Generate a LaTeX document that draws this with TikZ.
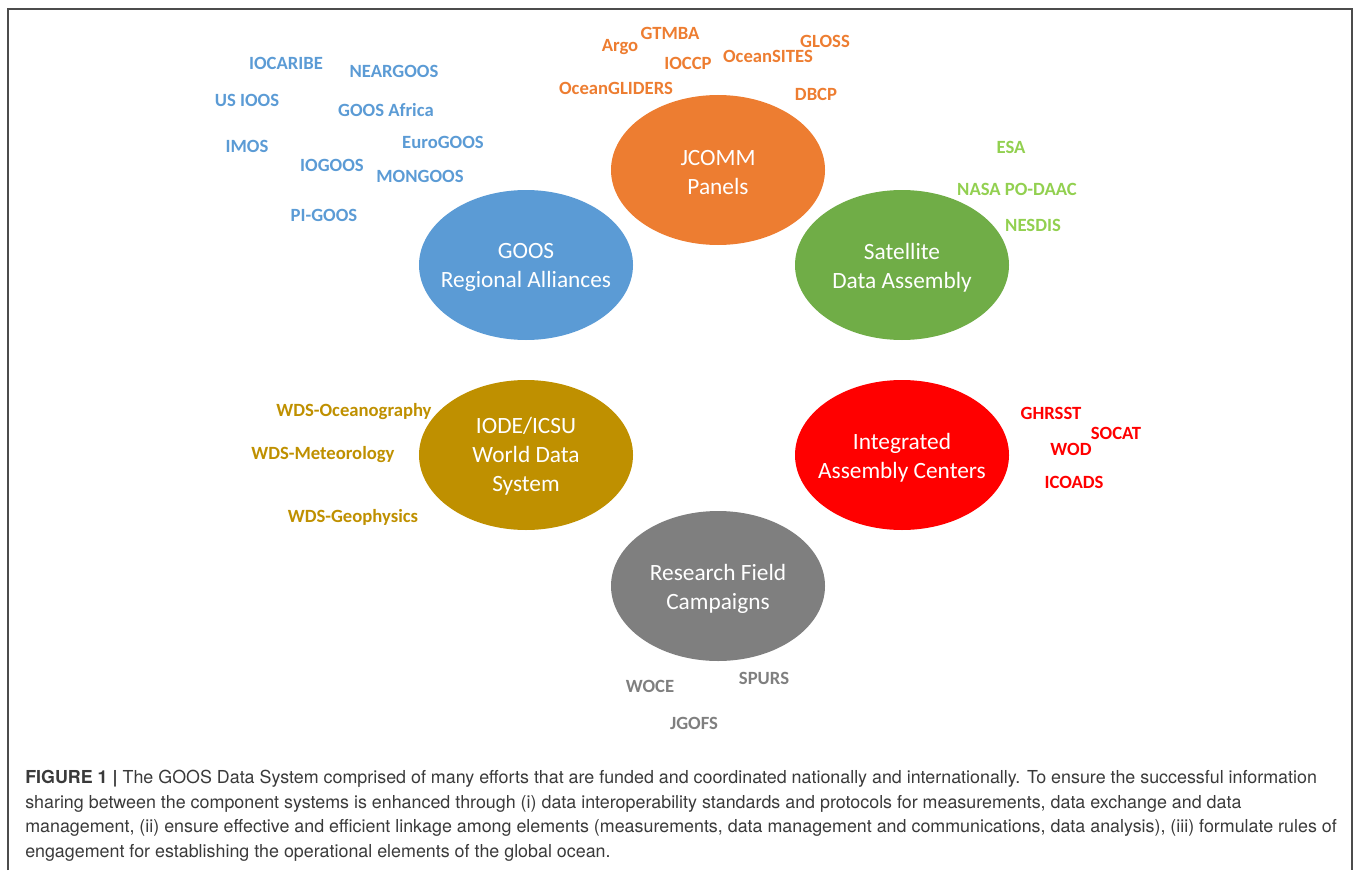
\documentclass[tikz,border=0pt]{standalone}
\usepackage{fontspec}
\setmainfont{Carlito}
\newfontfamily\capfont{TeX Gyre Heros}
\usetikzlibrary{shapes.geometric}

\definecolor{cBlue}{HTML}{5B9BD5}
\definecolor{cOrange}{HTML}{ED7D31}
\definecolor{cGreen}{HTML}{70AD47}
\definecolor{cLime}{HTML}{92D050}
\definecolor{cGold}{HTML}{BF9000}
\definecolor{cRed}{HTML}{FF0000}
\definecolor{cGrey}{HTML}{7F7F7F}
\definecolor{cCap}{HTML}{3A3A3A}

\begin{document}
\begin{tikzpicture}[x=0.75pt,y=-0.75pt,
    hub/.style={shape=ellipse,minimum width=160.5pt,minimum height=112.5pt,inner sep=0pt},
    hubtext/.style={text=white,align=center,inner sep=0pt,font=\fontsize{17.5}{21.75}\selectfont},
    tag/.style={font=\fontsize{14}{16}\selectfont\bfseries,inner sep=0pt}]
    \useasboundingbox (0,0) rectangle (1358,870);
    \draw[line width=1.1pt,color=black!70] (8,870) -- (8,9) -- (1352,9) -- (1352,870);

    %hubs
    \node[hub,fill=cOrange] (jcomm) at (718,170) {};
    \node[hub,fill=cBlue] (gra) at (526,265) {};
    \node[hub,fill=cGreen] (sat) at (902,265) {};
    \node[hub,fill=cGold] (wds) at (526,455) {};
    \node[hub,fill=cRed] (iac) at (902,455) {};
    \node[hub,fill=cGrey] (rfc) at (718,586) {};
    %hub texts
    \node[hubtext] (jcommtxt) at ([yshift=-2pt]jcomm) {JCOMM\\Panels};
    \node[hubtext] (gratxt) at ([yshift=-2pt]gra) {GOOS\\Regional Alliances};
    \node[hubtext] (sattxt) at ([yshift=-2pt]sat) {Satellite\\Data Assembly};
    \node[hubtext] (wdstxt) at ([yshift=-1pt]wds) {IODE/ICSU\\World Data\\System};
    \node[hubtext] (iactxt) at ([yshift=-2pt]iac) {Integrated\\Assembly Centers};
    \node[hubtext] (rfctxt) at ([yshift=-2pt]rfc) {Research Field\\Campaigns};

    %regional alliances
    \node[tag,text=cBlue] (iocaribe) at (286,63) {IOCARIBE};
    \node[tag,text=cBlue] (neargoos) at (394,71) {NEARGOOS};
    \node[tag,text=cBlue] (usioos) at (247,100) {US IOOS};
    \node[tag,text=cBlue] (goosafrica) at (386,110) {GOOS Africa};
    \node[tag,text=cBlue] (eurogoos) at (443,142) {EuroGOOS};
    \node[tag,text=cBlue] (imos) at (247,146) {IMOS};
    \node[tag,text=cBlue] (iogoos) at (332,165) {IOGOOS};
    \node[tag,text=cBlue] (mongoos) at (420,176) {MONGOOS};
    \node[tag,text=cBlue] (pigoos) at (324,215) {PI-GOOS};

    %jcomm panels
    \node[tag,text=cOrange] (gtmba) at (670,33) {GTMBA};
    \node[tag,text=cOrange,anchor=base] (argo) at (620,52) {Argo};
    \node[tag,text=cOrange] (ioccp) at (688,63) {IOCCP};
    \node[tag,text=cOrange] (oceansites) at (768,56) {OceanSITES};
    \node[tag,text=cOrange] (gloss) at (825,41) {GLOSS};
    \node[tag,text=cOrange] (gliders) at (616,88) {OceanGLIDERS};
    \node[tag,text=cOrange] (dbcp) at (816,94) {DBCP};

    %satellite
    \node[tag,text=cLime] (esa) at (1011,147) {ESA};
    \node[tag,text=cLime] (podaac) at (1017,189) {NASA PO-DAAC};
    \node[tag,text=cLime] (nesdis) at (1033,225) {NESDIS};

    %assembly centers
    \node[tag,text=cRed] (ghrsst) at (1051,413) {GHRSST};
    \node[tag,text=cRed] (socat) at (1116,433) {SOCAT};
    \node[tag,text=cRed] (wod) at (1071,449) {WOD};
    \node[tag,text=cRed] (icoads) at (1074,482) {ICOADS};

    %world data system
    \node[tag,text=cGold,anchor=base] (wdsocean) at (354,416) {WDS-Oceanography};
    \node[tag,text=cGold,anchor=base] (wdsmet) at (323,459) {WDS-Meteorology};
    \node[tag,text=cGold,anchor=base] (wdsgeo) at (353,522) {WDS-Geophysics};

    %field campaigns
    \node[tag,text=cGrey] (spurs) at (764,678) {SPURS};
    \node[tag,text=cGrey] (woce) at (650,686) {WOCE};
    \node[tag,text=cGrey] (jgofs) at (694,723) {JGOFS};

    %caption
    \node[anchor=north west,inner sep=0pt,align=left,text=cCap,
      font=\capfont\fontsize{13.4}{18.5}\selectfont] (caption) at (25,770)
      {\textbf{FIGURE 1 |} The GOOS Data System comprised of many efforts that are funded and coordinated nationally and internationally. To ensure the successful information\\
       sharing between the component systems is enhanced through (i) data interoperability standards and protocols for measurements, data exchange and data\\
       management, (ii) ensure effective and efficient linkage among elements (measurements, data management and communications, data analysis), (iii) formulate rules of\\
       engagement for establishing the operational elements of the global ocean.};
\end{tikzpicture}
\end{document}
